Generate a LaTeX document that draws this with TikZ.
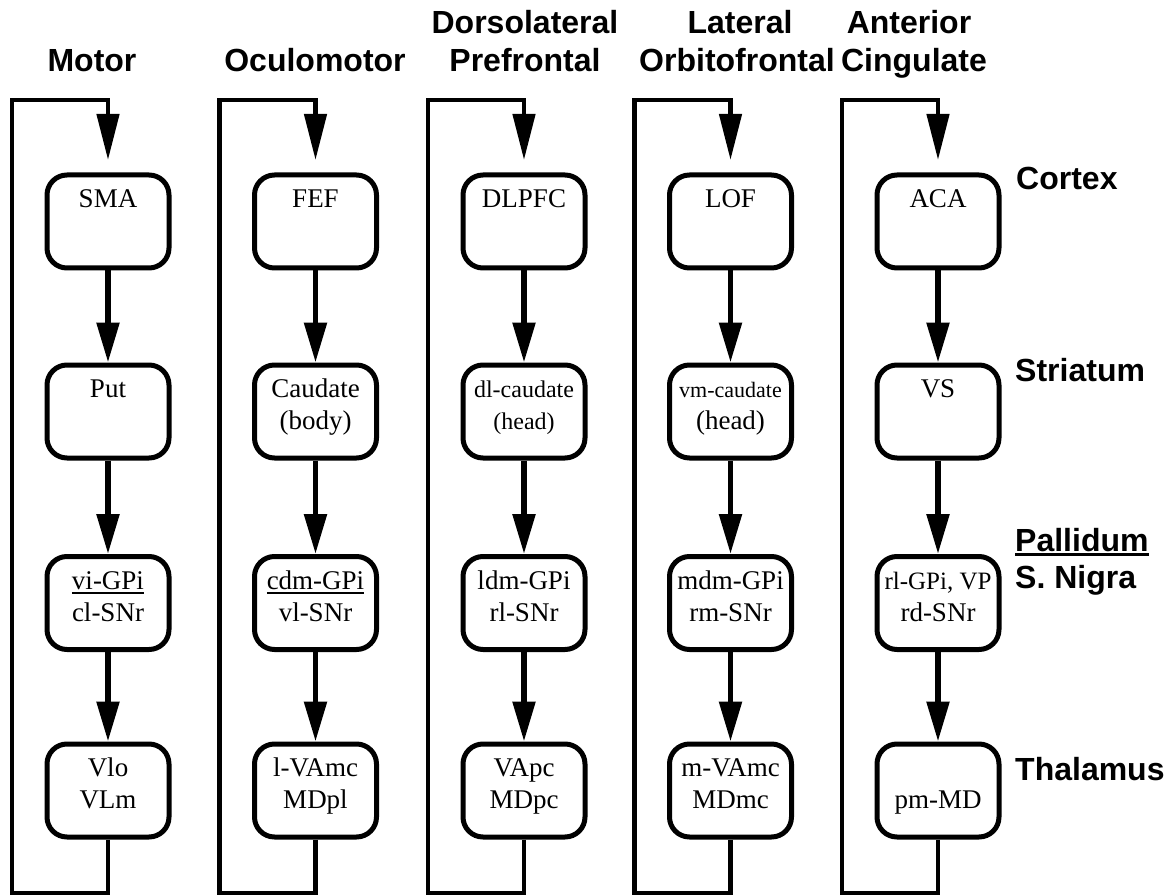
\documentclass[tikz,border=0pt]{standalone}
\usepackage{fontspec}
\setmainfont{Liberation Serif}
\setsansfont{Liberation Sans}
\usetikzlibrary{arrows.meta}
\newcommand{\tl}[2]{\strut #1\\\strut #2}
\newcommand{\uln}[1]{\leavevmode\vtop{\hbox{#1}\kern2.5pt\hrule height 1.8pt}}
\begin{document}
\begin{tikzpicture}[x=1pt,y=-1pt,
  cbox/.style={draw,line width=5pt,rounded corners=20pt,minimum width=122pt,minimum height=93pt,inner sep=0pt},
  btxt/.style={align=center,inner sep=0pt,font=\fontsize{27}{32}\selectfont},
  arr/.style={line width=5.5pt,-{Triangle[length=40pt,width=22pt]}},
  loopl/.style={line width=4.5pt,line join=miter,-{Triangle[length=46pt,width=22pt]}},
  ttl/.style={anchor=base,inner sep=0pt,font=\sffamily\bfseries\fontsize{32}{37}\selectfont},
  rlab/.style={anchor=base west,inner sep=0pt,font=\sffamily\bfseries\fontsize{32}{37}\selectfont}]
\useasboundingbox (0,0) rectangle (1168,896);

\foreach \i/\c in {0/108,1/315.5,2/524,3/730.5,4/938}{
  \foreach \j/\r in {1/221.5,2/411.5,3/603,4/790.5}{
    \node[cbox] (b\i\j) at (\c,\r) {};
  }
  \coordinate (lb\i) at (\c,893);
  \coordinate (lbl\i) at (\c-96,893);
  \coordinate (ltl\i) at (\c-96,100);
  \coordinate (lt\i) at (\c,100);
  \coordinate (le\i) at (\c,160);
  \draw[arr] (b\i1) -- (b\i2);
  \draw[arr] (b\i2) -- (b\i3);
  \draw[arr] (b\i3) -- (b\i4);
  \draw[loopl] (b\i4) -- (lb\i) -- (lbl\i) -- (ltl\i) -- (lt\i) -- (le\i);
}

% box texts
\node[btxt] (t01) at ([yshift=4pt]b01.center) {\tl{SMA}{}};
\node[btxt] (t02) at ([yshift=4pt]b02.center) {\tl{Put}{}};
\node[btxt] (t03) at ([yshift=4pt]b03.center) {\tl{\uln{vi-GPi}}{cl-SNr}};
\node[btxt] (t04) at ([yshift=4pt]b04.center) {\tl{Vlo}{VLm}};

\node[btxt] (t11) at ([yshift=4pt]b11.center) {\tl{FEF}{}};
\node[btxt] (t12) at ([yshift=4pt]b12.center) {\tl{Caudate}{(body)}};
\node[btxt] (t13) at ([yshift=4pt]b13.center) {\tl{\uln{cdm-GPi}}{vl-SNr}};
\node[btxt] (t14) at ([yshift=4pt]b14.center) {\tl{l-VAmc}{MDpl}};

\node[btxt] (t21) at ([yshift=4pt]b21.center) {\tl{DLPFC}{}};
\node[btxt] (t22) at ([yshift=4pt]b22.center) {\tl{{\fontsize{24}{28}\selectfont dl-caudate}}{{\fontsize{24}{28}\selectfont (head)}}};
\node[btxt] (t23) at ([yshift=4pt]b23.center) {\tl{ldm-GPi}{rl-SNr}};
\node[btxt] (t24) at ([yshift=4pt]b24.center) {\tl{VApc}{MDpc}};

\node[btxt] (t31) at ([yshift=4pt]b31.center) {\tl{LOF}{}};
\node[btxt] (t32) at ([yshift=4pt]b32.center) {\tl{{\fontsize{22}{26}\selectfont vm-caudate}}{(head)}};
\node[btxt] (t33) at ([yshift=4pt]b33.center) {\tl{mdm-GPi}{rm-SNr}};
\node[btxt] (t34) at ([yshift=4pt]b34.center) {\tl{m-VAmc}{MDmc}};

\node[btxt] (t41) at ([yshift=4pt]b41.center) {\tl{ACA}{}};
\node[btxt] (t42) at ([yshift=4pt]b42.center) {\tl{VS}{}};
\node[btxt] (t43) at ([yshift=4pt]b43.center) {\tl{{\fontsize{25}{28}\selectfont rl-GPi, VP}}{rd-SNr}};
\node[btxt] (t44) at ([yshift=4pt]b44.center) {\tl{}{pm-MD}};

% column titles
\node[ttl] (h0) at (92,72) {Motor};
\node[ttl] (h1) at (315,72) {Oculomotor};
\node[ttl] (h2a) at (525,34) {Dorsolateral};
\node[ttl] (h2b) at (525,72) {Prefrontal};
\node[ttl] (h3a) at (740,34) {Lateral};
\node[ttl] (h3b) at (737,72) {Orbitofrontal};
\node[ttl] (h4a) at (909,34) {Anterior};
\node[ttl] (h4b) at (914,72) {Cingulate};

% row labels
\node[rlab] (r1) at (1016,190) {Cortex};
\node[rlab] (r2) at (1015,381) {Striatum};
\node[rlab] (r3) at (1015,551) {Pallidum};
\draw[line width=2.5pt] ([yshift=-3.5pt]r3.base west) -- ([yshift=-3.5pt]r3.base east);
\node[rlab] (r3b) at (1015,588) {S. Nigra};
\node[rlab] (r4) at (1015,780) {Thalamus};
\end{tikzpicture}
\end{document}
